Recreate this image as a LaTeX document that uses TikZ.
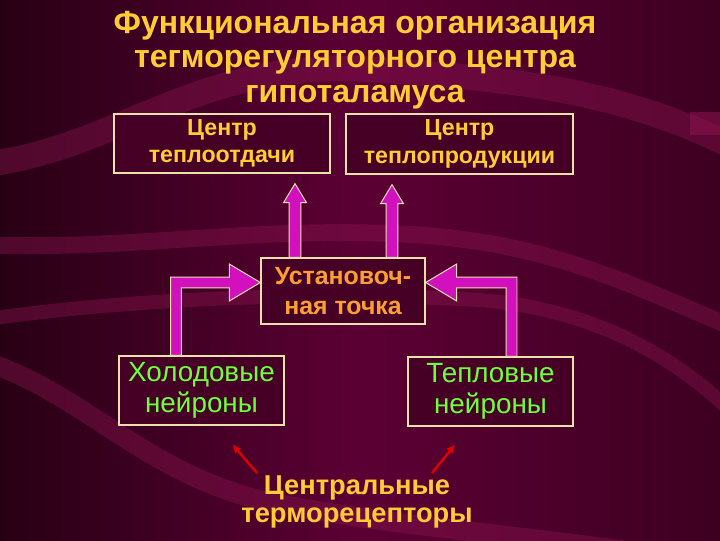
\documentclass[tikz,border=0pt]{standalone}
\usepackage{fontspec}
\setmainfont{Liberation Sans}
\usetikzlibrary{arrows.meta,calc,positioning}
\definecolor{bgdark}{RGB}{40,0,20}
\definecolor{bgmid}{RGB}{92,0,52}
\definecolor{swirl}{RGB}{140,20,80}
\definecolor{framecream}{RGB}{235,225,170}
\definecolor{titlegold}{RGB}{255,204,51}
\definecolor{setorange}{RGB}{250,160,50}
\definecolor{neurongreen}{RGB}{110,255,60}
\definecolor{arrowmag}{RGB}{210,16,190}
\definecolor{boxfill}{RGB}{70,0,38}

% block arrows (shaft from #1 straight up to the height of #2)
\def\sw{4.25pt}\def\hw{8.15pt}\def\hl{13.5pt}
\newcommand{\blkup}[2]{%
  \draw[blkarrow] let \p1=(#1), \p2=(#2) in
    (\x1-\sw,\y1) -- (\x1-\sw,\y2-\hl) -- (\x1-\hw,\y2-\hl) -- (\x1,\y2)
    -- (\x1+\hw,\y2-\hl) -- (\x1+\sw,\y2-\hl) -- (\x1+\sw,\y1) -- cycle;}
% elbow arrows: up from #1, then sideways into #2; #3 = +1 right, -1 left
\def\ew{3.9pt}\def\eh{13.1pt}\def\el{22pt}
\newcommand{\blkelbow}[3]{%
  \draw[blkarrow] let \p1=(#1), \p2=(#2) in
    ({\x1-#3*\ew},\y1) -- ({\x1-#3*\ew},{\y2+\ew}) -- ({\x2-#3*\el},{\y2+\ew})
    -- ({\x2-#3*\el},{\y2+\eh}) -- (\x2,\y2) -- ({\x2-#3*\el},{\y2-\eh})
    -- ({\x2-#3*\el},{\y2-\ew}) -- ({\x1+#3*\ew},{\y2-\ew}) -- ({\x1+#3*\ew},\y1) -- cycle;}

\begin{document}
\begin{tikzpicture}[
    x=0.025cm, y=-0.025cm,
    box/.style={draw=framecream, line width=0.9pt, fill=boxfill, align=center, inner sep=0pt},
    blkarrow/.style={draw=framecream, line width=0.7pt, fill=arrowmag},
    redarr/.style={draw=red!90!black, line width=1.6pt, -{Latex[length=6pt,width=6pt]}},
    swirlband/.style={draw=swirl, line width=18pt, opacity=0.4, line cap=round},
]
\useasboundingbox (0,0) rectangle (720,540);
% background
\shade[left color=bgdark, right color=bgdark!60!bgmid, middle color=bgmid] (0,0) rectangle (720,540);
\begin{scope}
\clip (0,0) rectangle (720,540);
\draw[swirlband] (-20,165) .. controls (120,150) and (200,55) .. (380,70) .. controls (520,80) and (620,90) .. (740,150);
\draw[swirlband, line width=12pt] (-20,245) .. controls (150,250) and (250,225) .. (420,235) .. controls (560,245) and (640,290) .. (740,330);
\draw[swirlband, line width=10pt] (-20,320) .. controls (120,300) and (300,290) .. (480,300) .. controls (600,310) and (680,360) .. (740,420);
\draw[swirlband, line width=14pt] (-20,360) .. controls (80,390) and (140,470) .. (260,500) .. controls (400,530) and (600,540) .. (740,570);
\fill[swirl, opacity=0.55] (690,112) rectangle (720,135);
\end{scope}

% title
\node[font=\bfseries\fontsize{22.8}{24.5}\selectfont, text=titlegold, align=center] (title) at (355,60)
  {Функциональная организация\\тегморегуляторного центра\\гипоталамуса};

% boxes
\node[box, minimum width=5.4cm, minimum height=1.475cm, text=titlegold,
      font=\bfseries\fontsize{16.5}{19.5}\selectfont] (loss) at (222,143.5) {Центр\\теплоотдачи};
\node[box, minimum width=5.675cm, minimum height=1.5cm, text=titlegold,
      font=\bfseries\fontsize{16.5}{19.5}\selectfont] (prod) at (459.5,144) {Центр\\теплопродукции};
\node[box, minimum width=4.1cm, minimum height=1.65cm, text=setorange,
      font=\bfseries\fontsize{17.7}{21}\selectfont] (setp) at (343,291) {Установоч-\\ная точка};
\node[box, minimum width=4.125cm, minimum height=1.725cm, text=neurongreen,
      font=\fontsize{19.8}{22}\selectfont] (cold) at (201.5,390.5) {Холодовые\\нейроны};
\node[box, minimum width=4.125cm, minimum height=1.725cm, text=neurongreen,
      font=\fontsize{19.8}{22}\selectfont] (warm) at (490.5,391.5) {Тепловые\\нейроны};
\node[font=\bfseries\fontsize{19.4}{19.5}\selectfont, text=titlegold, align=center] (recept) at (357,502)
  {Центральные\\терморецепторы};

% connectors
\blkup{$(setp.north)+(-48,0)$}{$(loss.south)+(0,10)$}
\blkup{$(setp.north)+(49,0)$}{$(prod.south)+(0,10)$}
\blkelbow{$(cold.north)+(-25.5,0)$}{$(setp.west)+(0,-8.5)$}{1}
\blkelbow{$(warm.north)+(21,0)$}{$(setp.east)+(0,-8.5)$}{-1}

\coordinate (rl) at (257,473);
\coordinate (rr) at (432,473);
\draw[redarr] (rl) -- ($(cold.south)+(31,19)$);
\draw[redarr] (rr) -- ($(warm.south)+(-35.5,18)$);
\end{tikzpicture}
\end{document}
